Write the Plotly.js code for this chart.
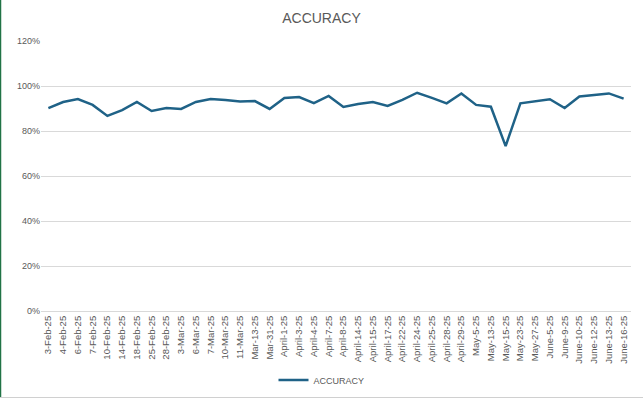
<!DOCTYPE html>
<html>
<head>
<meta charset="utf-8">
<script src="https://cdn.plot.ly/plotly-3.0.1.min.js"></script>
<style>html,body{margin:0;padding:0;background:#fff;}#chart{width:643px;height:398px;}</style>
</head>
<body>
<div id="chart"></div>
<script>
const dates = ["3-Feb-25","4-Feb-25","6-Feb-25","7-Feb-25","10-Feb-25","14-Feb-25","18-Feb-25","25-Feb-25","28-Feb-25","3-Mar-25","6-Mar-25","7-Mar-25","10-Mar-25","11-Mar-25","Mar-13-25","Mar-31-25","April-1-25","April-3-25","April-4-25","April-7-25","April-8-25","April-14-25","April-15-25","April-17-25","April-22-25","April-24-25","April-25-25","April-28-25","April-29-25","May-5-25","May-13-25","May-15-25","May-23-25","May-27-25","June-5-25","June-9-25","June-10-25","June-12-25","June-13-25","June-16-25"];
const accuracy = [0.902,0.929,0.942,0.916,0.867,0.893,0.929,0.889,0.902,0.898,0.929,0.942,0.938,0.931,0.933,0.898,0.947,0.951,0.924,0.956,0.907,0.920,0.929,0.911,0.938,0.970,0.947,0.923,0.967,0.916,0.908,0.733,0.923,0.933,0.941,0.902,0.953,0.960,0.967,0.944];
const yTicks = [0,0.2,0.4,0.6,0.8,1.0,1.2];

const trace = {
  x: dates, y: accuracy, type: 'scatter', mode: 'lines', name: 'ACCURACY',
  line: {color: '#1f6287', width: 2.5}
};
const layout = {
  width: 643, height: 398,
  margin: {l: 41, r: 12, t: 41, b: 87},
  paper_bgcolor: '#fff', plot_bgcolor: '#fff',
  title: {text: 'ACCURACY', x: 0.5, xanchor: 'center', y: 0.955, yanchor: 'middle',
          font: {family: 'Liberation Sans, Arial, sans-serif', size: 14, color: '#595959'}},
  font: {family: 'Liberation Sans, Arial, sans-serif', color: '#595959'},
  xaxis: {type: 'category', tickangle: -90, tickfont: {size: 9.5, color: '#595959'},
          showgrid: false, showline: true, linecolor: '#d9d9d9', linewidth: 1,
          ticks: '', range: [-0.5, dates.length - 0.5], fixedrange: true, automargin: false},
  yaxis: {range: [0, 1.2], tickvals: yTicks, tickformat: '.0%', tickfont: {size: 9, color: '#595959'},
          showgrid: true, gridcolor: '#d9d9d9', gridwidth: 1, zeroline: false, ticks: '', showline: false,
          automargin: false},
  showlegend: true,
  legend: {orientation: 'h', x: 0.5, xanchor: 'center', xref: 'container', yref: 'container', y: 18/398, yanchor: 'middle',
           font: {size: 9, color: '#595959'}},
  shapes: [
    {type: 'line', xref: 'paper', yref: 'paper', x0: -40.5/590, x1: -40.5/590, y0: -87/270, y1: 1 + 41/270, line: {color: '#217346', width: 1.5}},
    {type: 'line', xref: 'paper', yref: 'paper', x0: -41/590, x1: 1 + 12/590, y0: -86.5/270, y1: -86.5/270, line: {color: '#d0d0d0', width: 1}}
  ]
};
Plotly.newPlot('chart', [trace], layout, {displayModeBar: false, staticPlot: true});
</script>
</body>
</html>
